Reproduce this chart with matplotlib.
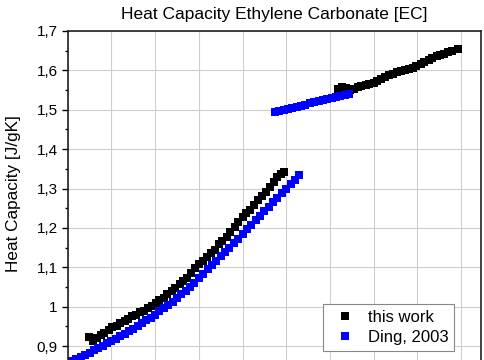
import matplotlib
matplotlib.use('Agg')
import matplotlib.pyplot as plt
from matplotlib.ticker import MultipleLocator, FuncFormatter

# Heat capacity of ethylene carbonate, temperature in degC, Cp in J/gK

# this work, solid branch
work_solid_t = [12.4, 12.9, 13.3, 13.8, 14.2, 14.7, 15.1, 15.6, 16.0, 16.5,
                16.9, 17.4, 17.8, 18.3, 18.7, 19.2, 19.6, 20.1, 20.5, 21.0,
                21.4, 21.9, 22.3, 22.8, 23.2, 23.7, 24.1, 24.6, 25.0, 25.5,
                25.9, 26.4, 26.8, 27.3, 27.7, 28.2, 28.6, 29.1, 29.5, 30.0,
                30.4, 30.9, 31.3, 31.8, 32.2, 32.7, 33.1, 33.6, 34.0, 34.4, 34.7]
work_solid_cp = [0.922, 0.912, 0.920, 0.928, 0.934, 0.941, 0.948, 0.952, 0.958, 0.963,
                 0.968, 0.975, 0.979, 0.986, 0.990, 0.997, 1.001, 1.008, 1.016, 1.023,
                 1.032, 1.040, 1.047, 1.057, 1.066, 1.074, 1.085, 1.098, 1.109, 1.117,
                 1.126, 1.136, 1.145, 1.158, 1.167, 1.178, 1.190, 1.201, 1.214, 1.228,
                 1.237, 1.246, 1.258, 1.270, 1.280, 1.292, 1.303, 1.316, 1.329, 1.336, 1.341]

# this work, liquid branch
work_liquid_t = [40.9, 41.4, 41.8, 42.3, 42.7, 43.2, 43.6, 44.1, 44.5, 45.0,
                 45.4, 45.9, 46.3, 46.8, 47.2, 47.7, 48.1, 48.6, 49.0, 49.5,
                 49.9, 50.4, 50.8, 51.3, 51.7, 52.2, 52.6, 53.1, 53.5, 54.0, 54.6]
work_liquid_cp = [1.553, 1.557, 1.555, 1.551, 1.553, 1.557, 1.560, 1.562, 1.565, 1.568,
                  1.573, 1.578, 1.582, 1.587, 1.591, 1.595, 1.598, 1.601, 1.604, 1.607,
                  1.612, 1.617, 1.622, 1.627, 1.632, 1.636, 1.639, 1.642, 1.646, 1.650, 1.654]

# Ding, 2003, solid branch
ding_solid_t = [10.0, 10.5, 11.0, 11.5, 12.0, 12.5, 13.0, 13.5, 14.0, 14.5,
                15.0, 15.5, 16.0, 16.5, 17.0, 17.5, 18.0, 18.5, 19.0, 19.5,
                20.0, 20.5, 21.0, 21.5, 22.0, 22.5, 23.0, 23.5, 24.0, 24.5,
                25.0, 25.5, 26.0, 26.5, 27.0, 27.5, 28.0, 28.5, 29.0, 29.5,
                30.0, 30.5, 31.0, 31.5, 32.0, 32.5, 33.0, 33.5, 34.0, 34.5,
                35.0, 35.5, 36.0, 36.5]
ding_solid_cp = [0.857, 0.862, 0.867, 0.872, 0.878, 0.883, 0.889, 0.895, 0.901, 0.907,
                 0.913, 0.919, 0.925, 0.931, 0.938, 0.944, 0.951, 0.958, 0.965, 0.972,
                 0.980, 0.988, 0.996, 1.004, 1.013, 1.022, 1.031, 1.040, 1.050, 1.061,
                 1.072, 1.083, 1.095, 1.106, 1.117, 1.128, 1.139, 1.150, 1.162, 1.173,
                 1.185, 1.196, 1.208, 1.219, 1.231, 1.242, 1.254, 1.265, 1.277, 1.288,
                 1.300, 1.311, 1.322, 1.334]

# Ding, 2003, liquid branch
ding_liquid_t = [33.7, 34.2, 34.7, 35.2, 35.7, 36.2, 36.7, 37.2, 37.7, 38.2,
                 38.7, 39.2, 39.7, 40.2, 40.7, 41.2, 41.7, 42.2]
ding_liquid_cp = [1.494, 1.497, 1.499, 1.502, 1.505, 1.508, 1.510, 1.513, 1.516, 1.519,
                  1.521, 1.524, 1.527, 1.530, 1.532, 1.535, 1.538, 1.541]

labels = ['this work', 'Ding, 2003']

plt.rcParams['font.family'] = ['Liberation Sans', 'DejaVu Sans']

W, H = 485, 360
fig = plt.figure(figsize=(W / 100, H / 100), dpi=100)
# axes runs past the bottom edge of the picture (x axis is cut off)
ax = fig.add_axes([67.7 / W, 1 - 385.4 / H, 413 / W, 354.4 / H])

ax.plot(work_solid_t, work_solid_cp, 's', color='black', ms=5.6, mew=0, label=labels[0])
ax.plot(work_liquid_t, work_liquid_cp, 's', color='black', ms=5.6, mew=0)
ax.plot(ding_solid_t, ding_solid_cp, 's', color='#0000ff', ms=5.4, mew=0, label=labels[1])
ax.plot(ding_liquid_t, ding_liquid_cp, 's', color='#0000ff', ms=5.4, mew=0)

ax.set_xlim(10, 57.25)
ax.set_ylim(0.8, 1.7)
ax.xaxis.set_major_locator(MultipleLocator(5))
ax.yaxis.set_major_locator(MultipleLocator(0.1))
ax.yaxis.set_minor_locator(MultipleLocator(0.05))
ax.yaxis.set_major_formatter(FuncFormatter(lambda v, p: f"{v:g}".replace('.', ',')))

ax.grid(True, which='major', color='#cfcfcf', linewidth=0.8)
ax.set_axisbelow(True)
for s in ax.spines.values():
    s.set_linewidth(1.2)
    s.set_color('#222222')

ax.tick_params(axis='y', which='major', direction='out', length=4.3, width=1, labelsize=11, pad=3)
ax.tick_params(axis='y', which='minor', direction='out', length=2.2, width=1)
ax.tick_params(axis='x', direction='out', length=4.3, labelbottom=False)

ax.set_title('Heat Capacity Ethylene Carbonate [EC]', fontsize=12.5, pad=9)
fig.text(14 / W, 1 - 194 / H, 'Heat Capacity [J/gK]', rotation=90,
         ha='center', va='center', fontsize=12.3)

leg = ax.legend(loc='upper left', bbox_to_anchor=((323 - 67.7) / 413, (385.4 - 304) / 354.4),
                borderaxespad=0, fontsize=12, fancybox=False, framealpha=1,
                edgecolor='#888888', handlelength=1.9, handletextpad=0.45,
                borderpad=0.35, labelspacing=0.3, markerscale=1.05)
leg.get_frame().set_linewidth(0.8)

fig.savefig('out.png', dpi=100)
